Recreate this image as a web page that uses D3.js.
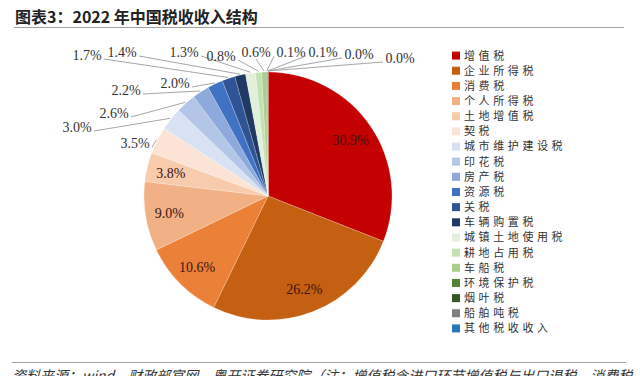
<!DOCTYPE html>
<html>
<head>
<meta charset="utf-8">
<script src="https://cdn.jsdelivr.net/npm/d3@7"></script>
<style>
  body { margin: 0; background: #fff; }
  svg { display: block; }
</style>
</head>
<body>
<div id="chart"></div>
<script>
// 2022 tax revenue structure, share of total (%)
const taxNames = ["增值税", "企业所得税", "消费税", "个人所得税", "土地增值税", "契税",
  "城市维护建设税", "印花税", "房产税", "资源税", "关税", "车辆购置税",
  "城镇土地使用税", "耕地占用税", "车船税", "环境保护税", "烟叶税", "船舶吨税", "其他税收收入"];
const taxShare = [30.9, 26.2, 10.6, 9.0, 3.8, 3.5, 3.0, 2.6, 2.2, 2.0, 1.7, 1.4, 1.3, 0.8, 0.6, 0.1, 0.1, 0.0, 0.0];
const sliceColors = ["#C40000", "#C55F12", "#EB8038", "#F2B184", "#F7CBAC", "#FBE4D5",
  "#D9E2F3", "#B4C6E7", "#8EA9DB", "#3F72C2", "#2F5496", "#1F3864",
  "#E2EFD9", "#C5E0B3", "#A8D08D", "#538135", "#375623", "#808080", "#2E75B6"];

// where the outside labels sit (centre of text), by slice index
const outsideLabels = {
  5: [135, 143], 6: [77, 127], 7: [114, 113], 8: [126, 90], 9: [175, 83],
  10: [87, 55], 11: [122, 52], 12: [184, 52], 13: [221, 56], 14: [256, 52],
  15: [291, 52], 16: [323, 52], 17: [359, 54], 18: [400, 58]
};

const width = 640, height = 376;
const cx = 268, cy = 196, radius = 124;

const svg = d3.select("#chart").append("svg")
  .attr("width", width)
  .attr("height", height);

// title + rules
svg.append("text")
  .attr("x", 15).attr("y", 23)
  .style("font-family", "'Noto Sans CJK SC', sans-serif")
  .style("font-size", "16px")
  .style("font-weight", "bold")
  .attr("fill", "#222")
  .text("图表3：2022 年中国税收收入结构");

svg.append("line")
  .attr("x1", 14).attr("x2", 624).attr("y1", 27.5).attr("y2", 27.5)
  .attr("stroke", "#a0a0a0").attr("stroke-width", 1.2);

svg.append("line")
  .attr("x1", 12).attr("x2", 626).attr("y1", 362.5).attr("y2", 362.5)
  .attr("stroke", "#a0a0a0").attr("stroke-width", 1.2);

svg.append("text")
  .attr("x", 12).attr("y", 381)
  .style("font-family", "'Noto Sans CJK SC', sans-serif")
  .style("font-size", "14px")
  .style("font-style", "italic")
  .attr("fill", "#333")
  .text("资料来源：wind，财政部官网，粤开证券研究院（注：增值税含进口环节增值税与出口退税，消费税");

// pie
const pie = d3.pie().sort(null).value(d => d);
const arcs = pie(taxShare);
const arc = d3.arc().innerRadius(0).outerRadius(radius);

const g = svg.append("g").attr("transform", `translate(${cx},${cy})`);

g.selectAll("path")
  .data(arcs)
  .enter()
  .append("path")
  .attr("d", arc)
  .attr("fill", (d, i) => sliceColors[i])
  .attr("stroke", "#ffffff")
  .attr("stroke-opacity", 0.35)
  .attr("stroke-width", 0.6);

const labelFont = "'Liberation Serif', 'Times New Roman', serif";

// inside labels for the big slices
const inner = d3.arc().innerRadius(100).outerRadius(100);
g.selectAll("text.inside")
  .data(arcs.filter((d, i) => i < 5))
  .enter()
  .append("text")
  .attr("class", "inside")
  .attr("transform", d => `translate(${inner.centroid(d)})`)
  .attr("text-anchor", "middle")
  .attr("dy", "0.35em")
  .style("font-family", labelFont)
  .style("font-size", "14px")
  .attr("fill", "#3a1410")
  .text(d => d.data.toFixed(1) + "%");

// outside labels with leader lines
const edge = d3.arc().innerRadius(radius + 1).outerRadius(radius + 1);
const outside = svg.append("g");
arcs.forEach((d, i) => {
  const pos = outsideLabels[i];
  if (!pos) return;
  const [ex, ey] = edge.centroid(d);
  const px = cx + ex, py = cy + ey;
  const half = 16;
  let ax, ay = pos[1] + 4;
  if (i === 14) { ax = pos[0]; ay = pos[1] + 7; }
  else if (pos[0] < cx) ax = pos[0] + half + 1;
  else ax = pos[0] - half - 1;

  outside.append("line")
    .attr("x1", ax).attr("y1", ay)
    .attr("x2", px).attr("y2", py)
    .attr("stroke", "#a6a6a6")
    .attr("stroke-width", 1);

  outside.append("text")
    .attr("x", pos[0]).attr("y", pos[1])
    .attr("text-anchor", "middle")
    .attr("dy", "0.35em")
    .style("font-family", labelFont)
    .style("font-size", "14px")
    .attr("fill", "#333")
    .text(d.data.toFixed(1) + "%");
});

// legend
const legendY = d3.scaleBand()
  .domain(taxNames)
  .range([48, 336]);

const legend = svg.append("g");
const rows = legend.selectAll("g")
  .data(taxNames)
  .enter()
  .append("g")
  .attr("transform", d => `translate(452,${legendY(d) + legendY.bandwidth() / 2})`);

rows.append("rect")
  .attr("x", 0).attr("y", -4)
  .attr("width", 8).attr("height", 8)
  .attr("fill", (d, i) => sliceColors[i]);

rows.append("text")
  .attr("x", 12)
  .attr("dy", "0.36em")
  .style("font-family", "'Noto Sans CJK SC', sans-serif")
  .style("font-size", "11px")
  .style("letter-spacing", "3.6px")
  .attr("fill", "#333")
  .text(d => d);
</script>
</body>
</html>
